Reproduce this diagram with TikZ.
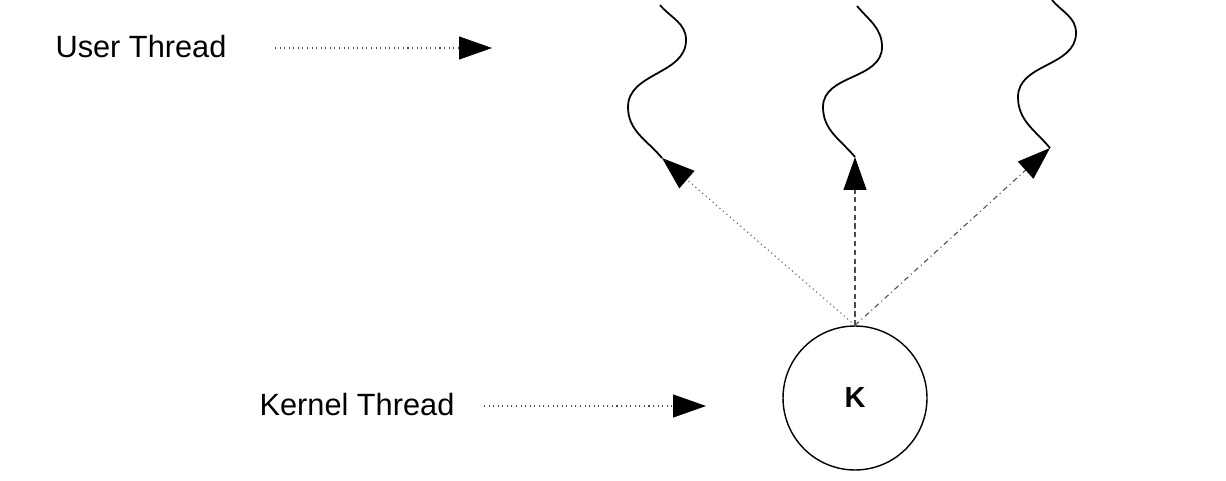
\documentclass[tikz,border=0pt]{standalone}
\usepackage{fontspec}
\setmainfont{Liberation Sans}
\usetikzlibrary{arrows.meta}

\begin{document}
\begin{tikzpicture}[x=0.02cm,y=0.02cm,>={Triangle[length=0.66cm,width=0.46cm,color=black]},color=black,
    label/.style={font=\fontsize{17.5}{20}\selectfont},
    thread/.style={line width=1pt},
    link/.style={->,line width=0.6pt,color=black!70}]
            \useasboundingbox (0,0) rectangle (1226,-480);
			\node[label] (ut) at (141,-47){User Thread};
			\node[label] (kt) at (357,-405){Kernel Thread};
			\node[draw,circle,line width=0.8pt,minimum size=2.88cm,inner sep=0pt,font=\bfseries\fontsize{16.5}{18}\selectfont] (k) at (855,-398){K};
			\coordinate (ua) at (275,-48);
			\coordinate (ub) at (492,-48);
			\coordinate (ka) at (484,-406);
			\coordinate (kb) at (706,-406);
            % user threads
			\draw[thread] (660,-5) to[out=-50,in=90] (686,-40) to[out=-90,in=90] (628,-107) to[out=-90,in=130] (662,-158) coordinate (u1);
			\draw[thread] (857,-6) to[out=-50,in=90] (882,-47) to[out=-90,in=90] (823,-107) to[out=-90,in=130] (855,-157) coordinate (u2);
			\draw[thread] (1052,0) to[out=-50,in=90] (1076,-33) to[out=-90,in=90] (1018,-97) to[out=-90,in=130] (1050,-148) coordinate (u3);
			\draw[link,dotted] (k.north) -- (u1);
			\draw[link,densely dashed] (k.north) -- (u2);
			\draw[link,dash dot] (k.north) -- (u3);
			\draw[link,dotted] (ua) -- (ub);
			\draw[link,dotted] (ka) -- (kb);
		\end{tikzpicture}
\end{document}
